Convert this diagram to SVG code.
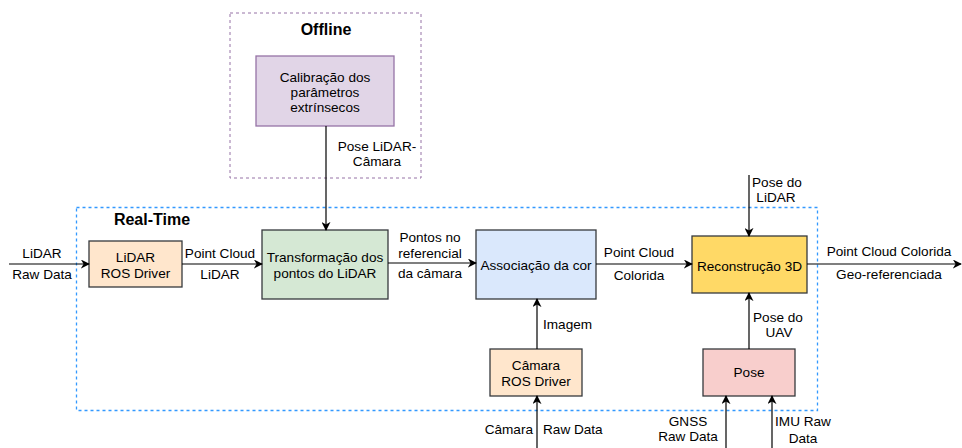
<svg xmlns="http://www.w3.org/2000/svg" width="962" height="448" viewBox="0 0 962 448">
<style>
text{font-family:"Liberation Sans",Arial,sans-serif;font-size:13.6px;fill:#000;}
.c{text-anchor:middle;}
.r{text-anchor:end;}
.b{font-weight:bold;font-size:16px;}
.node{stroke:#36393d;stroke-width:1.3;}
.edge{stroke:#000;stroke-width:1.2;fill:none;marker-end:url(#ah);}
</style>
<defs>
<marker id="ah" viewBox="0 0 10 10" refX="9" refY="5" markerWidth="9" markerHeight="9" markerUnits="userSpaceOnUse" orient="auto">
<path d="M0,0 L10,5 L0,10 L3,5 Z" fill="#000"/>
</marker>
</defs>
<rect x="0" y="0" width="962" height="448" fill="#fff"/>

<g id="offline">
<rect x="230" y="13" width="191" height="165" fill="none" stroke="#9673a6" stroke-dasharray="3 3"/>
<text x="326" y="35" class="c b">Offline</text>
</g>
<g id="realtime">
<rect x="76.5" y="207.5" width="741" height="203" fill="none" stroke="#3399ff" stroke-width="1.3" stroke-dasharray="3 3"/>
<text x="152" y="225" class="c b">Real-Time</text>
</g>

<g id="calib">
<rect x="256" y="56" width="138" height="70" fill="#e1d5e7" stroke="#9673a6" stroke-width="1.3"/>
<text x="325" y="82" class="c">Calibração dos</text>
<text x="325" y="97" class="c">parâmetros</text>
<text x="325" y="112" class="c">extrínsecos</text>
</g>

<g id="lidar-driver">
<rect x="89" y="241" width="93" height="46" class="node" fill="#ffe6cc"/>
<text x="135.5" y="262" class="c">LiDAR</text>
<text x="135.5" y="278" class="c">ROS Driver</text>
</g>

<g id="transf">
<rect x="262" y="230" width="126" height="69" class="node" fill="#d5e8d4"/>
<text x="325" y="262" class="c">Transformação dos</text>
<text x="325" y="278" class="c">pontos do LiDAR</text>
</g>

<g id="assoc">
<rect x="476" y="230" width="120" height="69" class="node" fill="#dae8fc"/>
<text x="536" y="270" class="c">Associação da cor</text>
</g>

<g id="camera-driver">
<rect x="490" y="349" width="92" height="47" class="node" fill="#ffe6cc"/>
<text x="536" y="370" class="c">Câmara</text>
<text x="536" y="386" class="c">ROS Driver</text>
</g>

<g id="recon">
<rect x="692" y="236" width="115" height="57" class="node" fill="#ffd966"/>
<text x="749.5" y="271" class="c">Reconstrução 3D</text>
</g>

<g id="pose">
<rect x="703" y="349" width="92" height="47" class="node" fill="#f8cecc"/>
<text x="749" y="377" class="c">Pose</text>
</g>

<g id="connectors">
<line x1="9" y1="264" x2="89" y2="264" class="edge"/>
<text x="42" y="258" class="c">LiDAR</text>
<text x="42" y="279" class="c">Raw Data</text>

<line x1="182" y1="264" x2="262" y2="264" class="edge"/>
<text x="220" y="258" class="c">Point Cloud</text>
<text x="220" y="279" class="c">LiDAR</text>

<line x1="326" y1="126" x2="326" y2="230" class="edge"/>
<text x="377" y="151" class="c">Pose LiDAR-</text>
<text x="377" y="166" class="c">Câmara</text>

<line x1="388" y1="263" x2="476" y2="263" class="edge"/>
<text x="430" y="242" class="c">Pontos no</text>
<text x="430" y="258" class="c">referencial</text>
<text x="430" y="278" class="c">da câmara</text>

<line x1="596" y1="264" x2="692" y2="264" class="edge"/>
<text x="639" y="257" class="c">Point Cloud</text>
<text x="639" y="280" class="c">Colorida</text>

<line x1="537" y1="349" x2="537" y2="299" class="edge"/>
<text x="543" y="329">Imagem</text>

<line x1="537" y1="448" x2="537" y2="396" class="edge"/>
<text x="533" y="434" class="r">Câmara</text>
<text x="543" y="434">Raw Data</text>

<line x1="749" y1="175" x2="749" y2="236" class="edge"/>
<text x="777" y="187" class="c">Pose do</text>
<text x="776" y="202" class="c">LiDAR</text>

<line x1="807" y1="264" x2="961" y2="264" class="edge"/>
<text x="889" y="256" class="c">Point Cloud Colorida</text>
<text x="889" y="279" class="c">Geo-referenciada</text>

<line x1="749" y1="349" x2="749" y2="293" class="edge"/>
<text x="778" y="322" class="c">Pose do</text>
<text x="779" y="337" class="c">UAV</text>

<line x1="726" y1="448" x2="726" y2="396" class="edge"/>
<text x="688" y="426" class="c">GNSS</text>
<text x="688" y="441" class="c">Raw Data</text>

<line x1="772" y1="448" x2="772" y2="396" class="edge"/>
<text x="803" y="426" class="c">IMU Raw</text>
<text x="803" y="443" class="c">Data</text>
</g>
</svg>
